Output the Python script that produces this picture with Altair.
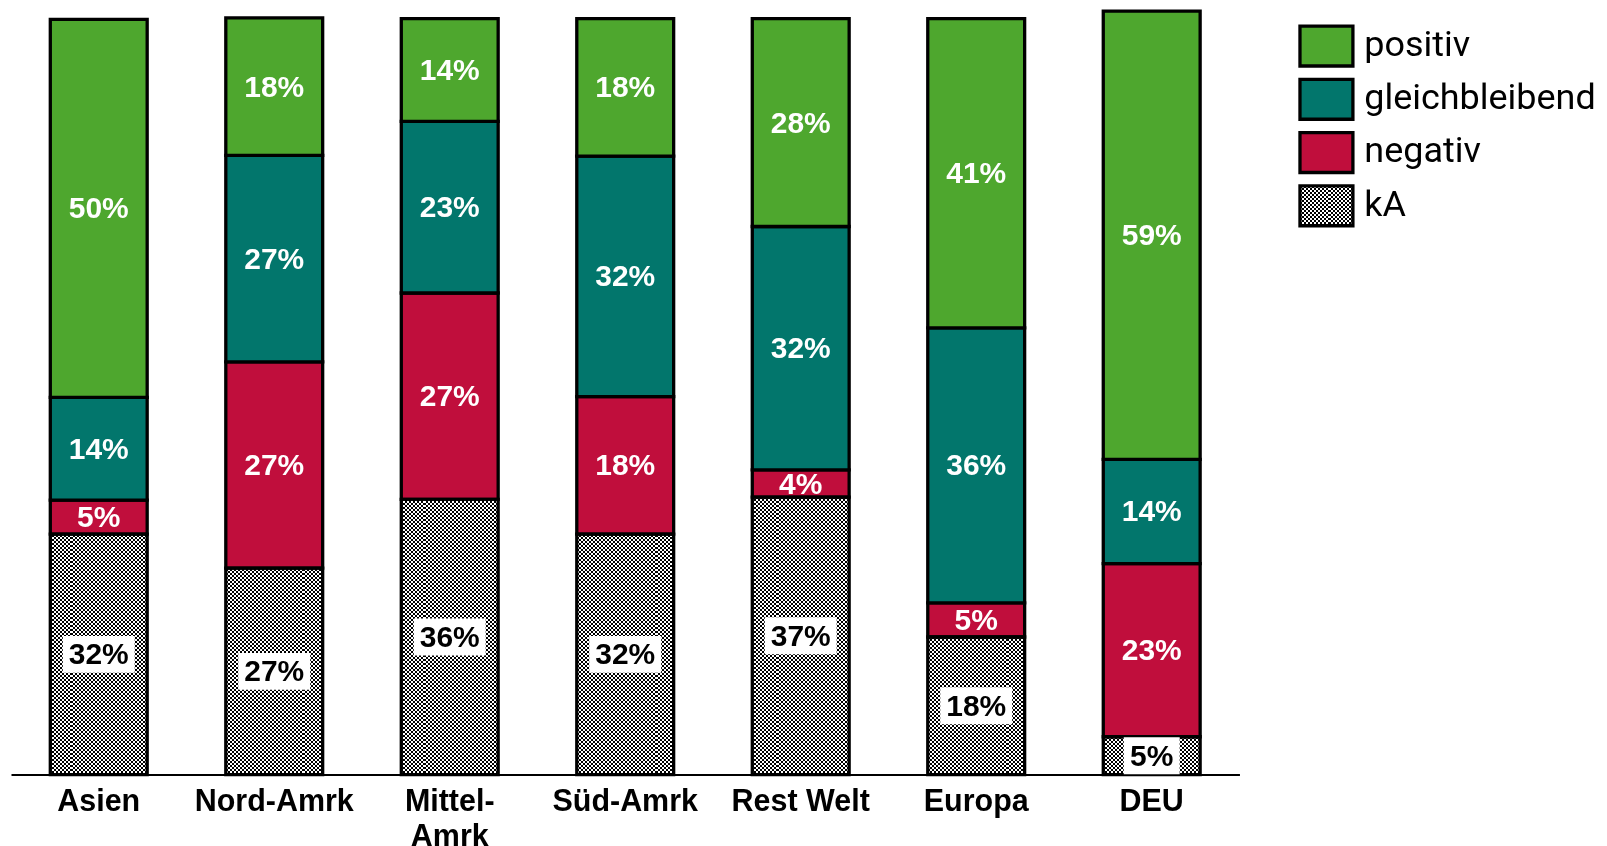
import altair as alt
import pandas as pd

# ---------------- data ----------------
categories = ["Asien", "Nord-Amrk", "Mittel-Amrk", "Süd-Amrk", "Rest Welt", "Europa", "DEU"]
statuses = ["kA", "negativ", "gleichbleibend", "positiv"]          # stack order, bottom -> top
legend_order = ["positiv", "gleichbleibend", "negativ", "kA"]
ka = [31.8, 27.3, 36.4, 31.8, 36.7, 18.2, 5.0]
negativ = [4.5, 27.3, 27.3, 18.2, 3.6, 4.5, 22.9]
gleichbleibend = [13.6, 27.3, 22.7, 31.8, 32.2, 36.4, 13.8]
positiv = [50.0, 18.2, 13.6, 18.2, 27.5, 40.9, 59.3]
colors = {"positiv": "#4EA72E", "gleichbleibend": "#02766C", "negativ": "#C00E3C"}

# ---------------- layout constants ----------------
PLOT_W, PLOT_H = 1230, 766
Y_MAX = 101.2
BAR_W = 97
STROKE_W = 3.3
CELL = 2.0

series = {"kA": ka, "negativ": negativ, "gleichbleibend": gleichbleibend, "positiv": positiv}
rows = []
for i, c in enumerate(categories):
    base = 0.0
    for s in statuses:
        v = series[s][i]
        rows.append({
            "cat": c, "status": s, "value": v,
            "y0": base, "y1": base + v, "mid": base + v / 2,
            "label": f"{int(v + 0.5)}%",
            "tc": "black" if s == "kA" else "white",
        })
        base += v
df = pd.DataFrame(rows)
totals = df.groupby("cat")["value"].sum()
ov_top = float(totals.min()) - 5
ov = pd.DataFrame({"cat": categories, "o0": [0.0] * len(categories), "o1": [ov_top] * len(categories)})


def stripes(n, vertical):
    stops = []
    for k in range(n):
        col = "black" if k % 2 == 0 else "white"
        stops.append({"color": col, "offset": k / n})
        stops.append({"color": col, "offset": (k + 1) / n})
    g = {"gradient": "linear", "stops": stops}
    if vertical:
        g.update({"x1": 0, "x2": 1, "y1": 0, "y2": 0})
    else:
        g.update({"x1": 0, "x2": 0, "y1": 0, "y2": 1})
    return g


n_cols = int(round(BAR_W / CELL))
n_rows = int(round(ov_top / Y_MAX * PLOT_H / CELL))
vgrad = stripes(n_cols, True)
hgrad = stripes(n_rows, False)

x_enc = alt.X(
    "cat:N", sort=categories,
    scale=alt.Scale(paddingInner=0, paddingOuter=0),
    axis=alt.Axis(
        title=None, labelFont="Liberation Sans", labelFontWeight="bold", labelFontSize=30.5,
        labelColor="black", labelAngle=0, ticks=False, domainColor="black", domainWidth=2,
        labelPadding=12, labelLineHeight=35, labelOverlap=False,
        labelExpr="datum.value == 'Mittel-Amrk' ? ['Mittel-', 'Amrk'] : datum.value",
    ),
)
y_scale = alt.Scale(domain=[0, Y_MAX], nice=False, zero=True)

base = alt.Chart(df)

ka_base = base.transform_filter("datum.status == 'kA'").mark_bar(size=BAR_W, fill=vgrad, strokeWidth=0).encode(
    x=x_enc, y=alt.Y("y0:Q", scale=y_scale, axis=None), y2="y1:Q")

ka_overlay = alt.Chart(ov).mark_bar(size=BAR_W, fill=hgrad, blend="difference", strokeWidth=0).encode(
    x=x_enc, y=alt.Y("o0:Q", scale=y_scale, axis=None), y2="o1:Q")

colored = base.transform_filter("datum.status != 'kA'").mark_bar(
    size=BAR_W, stroke="black", strokeWidth=STROKE_W).encode(
    x=x_enc, y=alt.Y("y0:Q", scale=y_scale, axis=None), y2="y1:Q",
    color=alt.Color("status:N", scale=alt.Scale(domain=list(colors.keys()), range=list(colors.values())), legend=None))

ka_outline = base.transform_filter("datum.status == 'kA'").mark_bar(
    size=BAR_W, fillOpacity=0, stroke="black", strokeWidth=STROKE_W).encode(
    x=x_enc, y=alt.Y("y0:Q", scale=y_scale, axis=None), y2="y1:Q")

half_box = 18.5 / PLOT_H * Y_MAX
ka_box = base.transform_filter("datum.status == 'kA'").transform_calculate(
    b0=f"datum.mid - {half_box}", b1=f"datum.mid + {half_box}",
    bw="length(datum.label) * 16 + 24").mark_bar(fill="white", strokeWidth=0).encode(
    x=x_enc, y=alt.Y("b0:Q", scale=y_scale, axis=None), y2="b1:Q",
    size=alt.Size("bw:Q", scale=None, legend=None))

labels = base.mark_text(font="Liberation Sans", fontWeight="bold", fontSize=30, baseline="middle", dy=1).encode(
    x=x_enc, y=alt.Y("mid:Q", scale=y_scale, axis=None), text="label:N",
    color=alt.Color("tc:N", scale=None))

main = alt.layer(ka_base, ka_overlay, colored, ka_outline, ka_box, labels).properties(width=PLOT_W, height=PLOT_H)

# ---------------- legend ----------------
leg = alt.Chart(pd.DataFrame({"status": legend_order}))
ly = alt.Y("status:N", sort=legend_order, axis=None, scale=alt.Scale(paddingInner=0, paddingOuter=0.185))
SW_H = 40
sw_cols = int(round(53 / CELL))
sw_rows = int(round(SW_H / CELL))
leg_sw = leg.transform_filter("datum.status != 'kA'").mark_bar(size=SW_H, stroke="black", strokeWidth=STROKE_W).encode(
    x=alt.value(1.6), x2=alt.value(54.6), y=ly,
    color=alt.Color("status:N", scale=alt.Scale(domain=list(colors.keys()), range=list(colors.values())), legend=None))
leg_ka = leg.transform_filter("datum.status == 'kA'").mark_bar(size=SW_H, fill=stripes(sw_cols, True), strokeWidth=0).encode(
    x=alt.value(1.6), x2=alt.value(54.6), y=ly)
leg_ka_ov = leg.transform_filter("datum.status == 'kA'").mark_bar(
    size=SW_H, fill=stripes(sw_rows, False), blend="difference", strokeWidth=0).encode(
    x=alt.value(1.6), x2=alt.value(54.6), y=ly)
leg_ka_out = leg.transform_filter("datum.status == 'kA'").mark_bar(
    size=SW_H, fillOpacity=0, stroke="black", strokeWidth=STROKE_W).encode(
    x=alt.value(1.6), x2=alt.value(54.6), y=ly)
leg_txt = leg.mark_text(align="left", baseline="middle", font="Roboto", fontSize=36, color="black", dy=-1).encode(
    x=alt.value(66), y=ly, text="status:N")
legend = alt.layer(leg_sw, leg_ka, leg_ka_ov, leg_ka_out, leg_txt).properties(width=300, height=233)

chart = alt.hconcat(main, legend, spacing=57).properties(
    padding={"left": 2, "top": 0, "right": 0, "bottom": 0}
).configure_view(stroke="transparent")

chart.save("out.html", embed_options={"renderer": "svg", "actions": False})
